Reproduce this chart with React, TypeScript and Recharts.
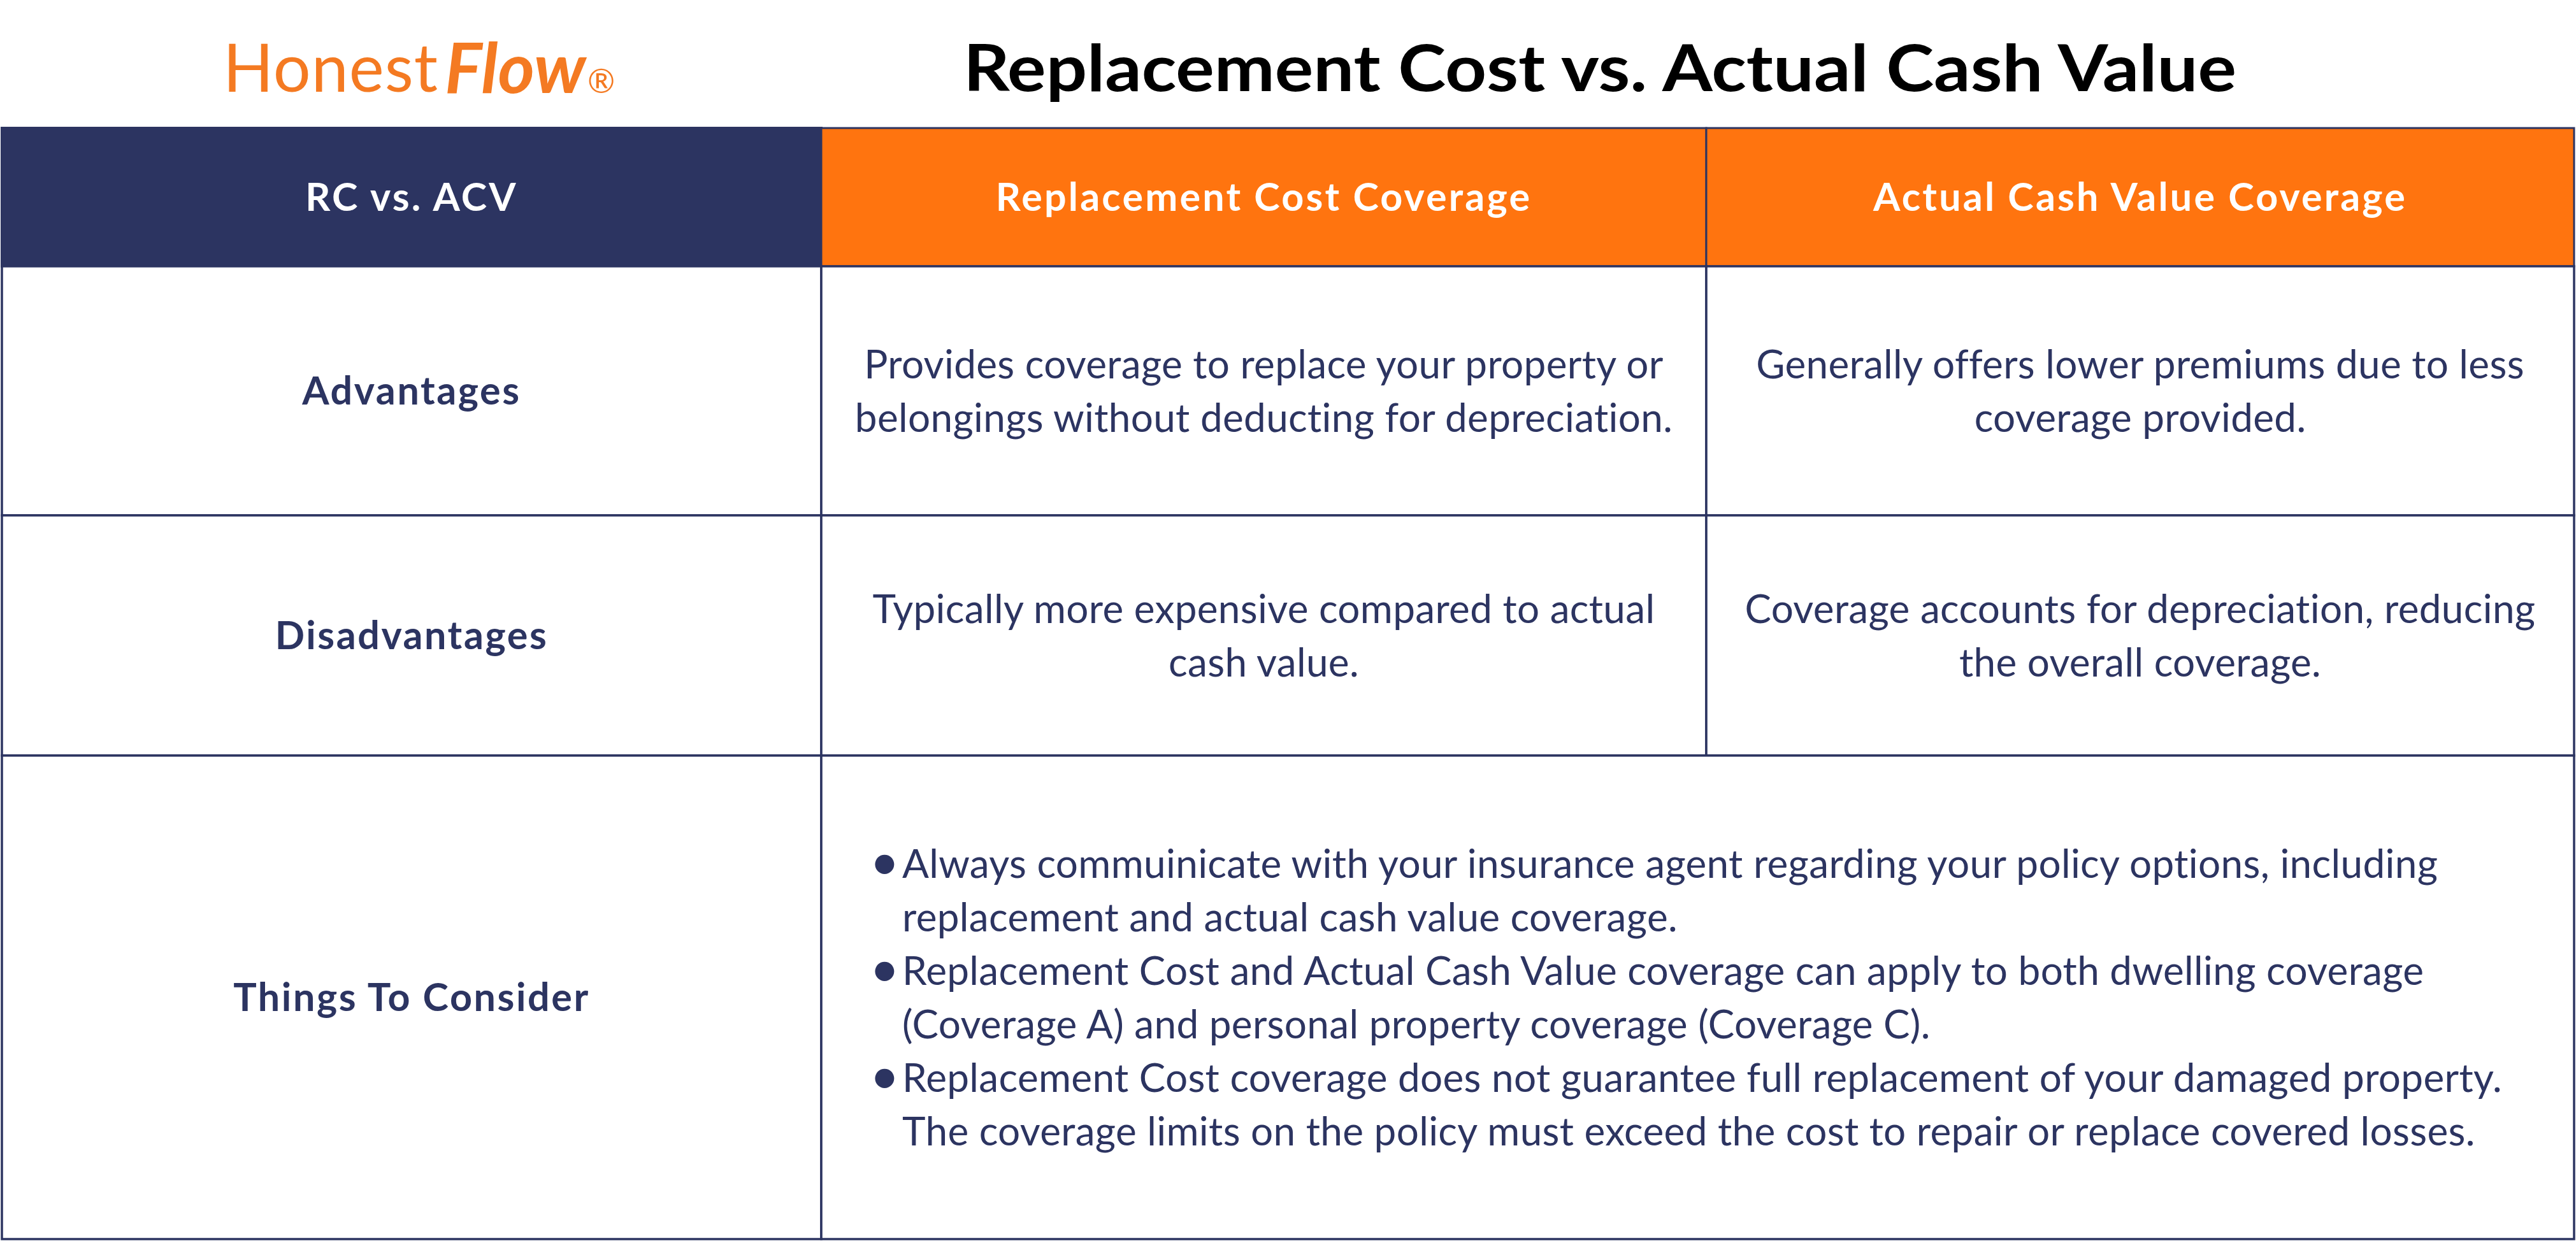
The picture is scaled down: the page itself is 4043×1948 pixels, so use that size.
import React from 'react';
import { ComposedChart, XAxis, YAxis, ReferenceArea } from 'recharts';

const W = 4043;
const H = 1948;

// table content
const columnHeaders = ['RC vs. ACV', 'Replacement Cost Coverage', 'Actual Cash Value Coverage'];
const rowLabels = ['Advantages', 'Disadvantages', 'Things To Consider'];
const replacementLines = [
  ['Provides coverage to replace your property or', 'belongings without deducting for depreciation.'],
  ['Typically more expensive compared to actual', 'cash value.'],
];
const actualCashLines = [
  ['Generally offers lower premiums due to less', 'coverage provided.'],
  ['Coverage accounts for depreciation, reducing', 'the overall coverage.'],
];
const considerBullets = [
  ['Always commuinicate with your insurance agent regarding your policy options, including', 'replacement and actual cash value coverage.'],
  ['Replacement Cost and Actual Cash Value coverage can apply to both dwelling coverage', '(Coverage A) and personal property coverage (Coverage C).'],
  ['Replacement Cost coverage does not guarantee full replacement of your damaged property.', 'The coverage limits on the policy must exceed the cost to repair or replace covered losses.'],
];

// layout (px on the page)
const COL_EDGES = [3, 1289, 2678, 4040];
const ROW_EDGES = [201, 418, 809, 1186, 1945];

const NAVY = '#2c3461';
const ORANGE = '#ff740f';
const LOGO = '#f47a22';
const FONT = 'Lato, "Open Sans", sans-serif';
const LINE_H = 84;

type Item = { t: string; bullet?: boolean };

function renderLines(
  viewBox: any,
  items: Item[],
  opts: { size: number; weight: number; color: string; spacing: number; left?: boolean }
) {
  const { x, y, width, height } = viewBox;
  const cy = y + height / 2;
  const n = items.length;
  const capShift = opts.size * 0.36;
  return (
    <g>
      {items.map((it, i) => {
        const base = cy + (i - (n - 1) / 2) * LINE_H + capShift;
        if (opts.left) {
          return (
            <g key={i}>
              {it.bullet && (
                <text x={x + 76} y={base + 3} fontFamily={FONT} fontSize={opts.size * 1.3} fill={opts.color}>
                  •
                </text>
              )}
              <text x={x + 127} y={base} fontFamily={FONT} fontSize={opts.size} fontWeight={opts.weight}
                letterSpacing={opts.spacing} fill={opts.color}>
                {it.t}
              </text>
            </g>
          );
        }
        return (
          <text
            key={i}
            x={x + width / 2}
            y={base}
            textAnchor="middle"
            fontFamily={FONT}
            fontSize={opts.size}
            fontWeight={opts.weight}
            letterSpacing={opts.spacing}
            fill={opts.color}
          >
            {it.t}
          </text>
        );
      })}
    </g>
  );
}

function TopBand() {
  return (
    <g>
      <text x={350} y={144} fontFamily={FONT} fontSize={104} letterSpacing={1} fill={LOGO}>
        Honest
      </text>
      <text x={698} y={146} fontFamily={FONT} fontSize={110} fontStyle="italic" fontWeight={700} fill={LOGO}>
        Flow
      </text>
      <text x={922} y={146} fontFamily={FONT} fontSize={52} fill={LOGO}>
        ®
      </text>
      <text x={1512} y={143} textLength={1998} lengthAdjust="spacingAndGlyphs" fontFamily={FONT}
        fontSize={102} fontWeight={700} fill="#000">
        Replacement Cost vs. Actual Cash Value
      </text>
    </g>
  );
}

export default function App() {
  const bodyCells: any[] = [];
  rowLabels.forEach((label, r) => {
    const y1 = ROW_EDGES[r + 1];
    const y2 = ROW_EDGES[r + 2];
    bodyCells.push({ key: `l${r}`, x1: COL_EDGES[0], x2: COL_EDGES[1], y1, y2, items: [{ t: label }], kind: 'label' });
    if (r < 2) {
      bodyCells.push({ key: `rc${r}`, x1: COL_EDGES[1], x2: COL_EDGES[2], y1, y2, items: replacementLines[r].map((t) => ({ t })), kind: 'body' });
      bodyCells.push({ key: `acv${r}`, x1: COL_EDGES[2], x2: COL_EDGES[3], y1, y2, items: actualCashLines[r].map((t) => ({ t })), kind: 'body' });
    } else {
      const items = considerBullets.flatMap((b) => b.map((t, j) => ({ t, bullet: j === 0 })));
      bodyCells.push({ key: 'tc', x1: COL_EDGES[1], x2: COL_EDGES[3], y1, y2, items, kind: 'bullets' });
    }
  });

  return (
    <div style={{ width: W, height: H, background: '#fff' }}>
      <style>{'body{margin:0}'}</style>
      <ComposedChart width={W} height={H} margin={{ top: 0, right: 0, bottom: 0, left: 0 }}>
        <XAxis type="number" dataKey="x" domain={[0, W]} hide allowDataOverflow />
        <YAxis type="number" dataKey="y" domain={[0, H]} reversed hide allowDataOverflow />

        <ReferenceArea x1={0} x2={W} y1={0} y2={ROW_EDGES[0] - 4} fill="#fff" fillOpacity={0} ifOverflow="visible"
          label={() => TopBand()} />

        {columnHeaders.map((h, c) => (
          <ReferenceArea
            key={h}
            x1={COL_EDGES[c]}
            x2={COL_EDGES[c + 1]}
            y1={ROW_EDGES[0]}
            y2={ROW_EDGES[1]}
            fill={c === 0 ? NAVY : ORANGE}
            fillOpacity={1}
            stroke={NAVY}
            strokeWidth={c === 0 ? 4 : 3}
            ifOverflow="visible"
            label={(p: any) => renderLines(p.viewBox, [{ t: h }], { size: 61, weight: 700, color: '#fff', spacing: 3.2 })}
          />
        ))}

        {bodyCells.map((cell) => (
          <ReferenceArea
            key={cell.key}
            x1={cell.x1}
            x2={cell.x2}
            y1={cell.y1}
            y2={cell.y2}
            fill="#fff"
            fillOpacity={1}
            stroke={NAVY}
            strokeWidth={3.5}
            ifOverflow="visible"
            label={(p: any) =>
              renderLines(p.viewBox, cell.items, {
                size: cell.kind === 'label' ? 61 : 62,
                weight: cell.kind === 'label' ? 700 : 400,
                color: NAVY,
                spacing: cell.kind === 'label' ? 2.6 : 0.35,
                left: cell.kind === 'bullets',
              })
            }
          />
        ))}
      </ComposedChart>
    </div>
  );
}
